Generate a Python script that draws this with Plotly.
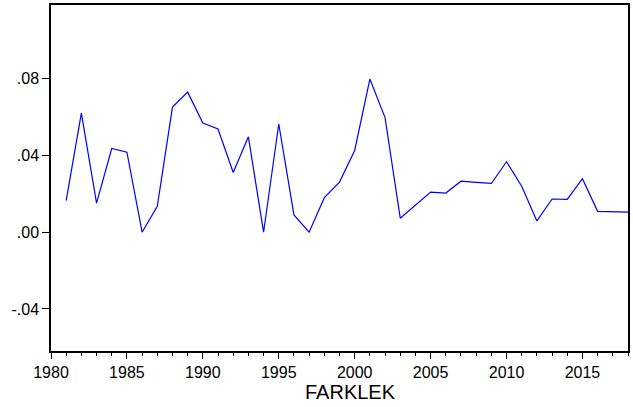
import plotly.graph_objects as go

years = list(range(1981, 2019))
farklek = [0.0165, 0.0621, 0.0152, 0.0436, 0.0417, 0.0000, 0.0135, 0.0652, 0.0730, 0.0569,
           0.0538, 0.0311, 0.0497, 0.0000, 0.0564, 0.0090, 0.0000, 0.0180, 0.0261, 0.0426,
           0.0798, 0.0597, 0.0073, 0.0140, 0.0209, 0.0204, 0.0266, 0.0260, 0.0254, 0.0367,
           0.0240, 0.0059, 0.0173, 0.0171, 0.0279, 0.0109, 0.0106, 0.0105]
y_tickvals = [-0.04, 0.0, 0.04, 0.08]
y_ticktext = ["-.04", ".00", ".04", ".08"]
x_tickvals = [1980, 1985, 1990, 1995, 2000, 2005, 2010, 2015]

fig = go.Figure()
fig.add_trace(go.Scatter(x=years, y=farklek, mode="lines",
                         line=dict(color="#0000FF", width=1.2), showlegend=False))

fig.update_layout(
    width=633, height=407,
    margin=dict(l=51, r=5, t=5, b=56, autoexpand=False),
    paper_bgcolor="white", plot_bgcolor="white",
    font=dict(family="Liberation Sans, Arial, sans-serif", size=16, color="black"),
    xaxis=dict(range=[1980, 2018], tickvals=x_tickvals, ticks="outside", ticklen=6,
               tickwidth=1, tickcolor="black", showgrid=False, zeroline=False,
               showline=True, linecolor="black", linewidth=1.5, mirror=True,
               automargin=False,
               minor=dict(dtick=1, tick0=1980, ticks="outside", ticklen=3,
                          tickcolor="black", showgrid=False)),
    yaxis=dict(range=[-0.0619, 0.1184], tickvals=y_tickvals, ticktext=y_ticktext,
               ticks="outside", ticklen=7, tickwidth=1, tickcolor="black",
               showgrid=False, zeroline=False, showline=True, linecolor="black",
               linewidth=1.5, mirror=True, automargin=False),
    annotations=[dict(text="FARKLEK", xref="paper", yref="paper", x=0.519, y=-0.08,
                      xanchor="center", yanchor="top", showarrow=False,
                      font=dict(size=20, color="black"))],
)

fig.write_html("out.html", config={"displayModeBar": False},
               post_script="document.body.style.margin='0';document.body.style.overflow='hidden';")
